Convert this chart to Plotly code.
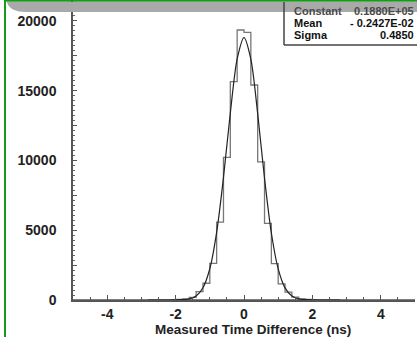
import numpy as np
import plotly.graph_objects as go

# ---------------- data ----------------
bin_width = 0.2
bin_centers = [-2.9, -2.7, -2.5, -2.3, -2.1, -1.9, -1.7, -1.5, -1.3, -1.1,
               -0.9, -0.7, -0.5, -0.3, -0.1, 0.1, 0.3, 0.5, 0.7, 0.9,
               1.1, 1.3, 1.5, 1.7, 1.9, 2.1, 2.3, 2.5, 2.7, 2.9]
bin_counts = [0, 10, 12, 18, 30, 45, 80, 190, 595, 1200,
              2630, 5580, 10220, 15640, 19340, 19170, 15400, 9900, 5490, 2600,
              1150, 560, 200, 85, 45, 30, 18, 12, 8, 0]

fit_x = [-2.8, -2.4, -2.0, -1.8, -1.6, -1.4, -1.2, -1.0, -0.8, -0.6, -0.4, -0.2, 0.0,
         0.2, 0.4, 0.6, 0.8, 1.0, 1.2, 1.4, 1.6, 1.8, 2.0, 2.4, 2.8]
fit_y = [0, 1, 4, 20, 82, 290, 880, 2240, 4850, 8780, 13400, 17270, 18800,
         17250, 13350, 8720, 4800, 2230, 870, 285, 80, 20, 4, 1, 0]

x_tick_vals = [-4, -2, 0, 2, 4]
x_tick_text = ["-4", "-2", "0", "2", "4"]
y_tick_vals = [0, 2500, 5000, 7500, 10000, 12500, 15000, 17500, 20000]
y_tick_text = ["0", "", "5000", "", "10000", "", "15000", "", "20000"]

stat_names = ["Constant", "Mean", "Sigma"]
stat_values = ["0.1880E+05", "- 0.2427E-02", "0.4850"]

x_title = "Measured Time Difference (ns)"

# ---------------- geometry helpers ----------------
W, H = 417, 337
ML, MR, MT, MB = 73, 2, 0, 37
PW = W - ML - MR
PH = H - MT - MB


def xp(px):
    return (px - ML) / PW


def yp(py):
    return (MT + PH - py) / PH


# step outline from bin centers
edges = np.array(bin_centers) - bin_width / 2
step_x = list(edges) + [bin_centers[-1] + bin_width / 2]
step_y = list(bin_counts) + [bin_counts[-1]]

fig = go.Figure()
fig.add_trace(go.Scatter(x=[-5, 5], y=[0, 0], mode="lines",
                         line=dict(color="#555555", width=1.5),
                         hoverinfo="skip", showlegend=False))
fig.add_trace(go.Scatter(x=step_x, y=step_y, mode="lines", line_shape="hv",
                         line=dict(color="#777777", width=1.3),
                         showlegend=False))
fig.add_trace(go.Scatter(x=fit_x, y=fit_y, mode="lines", line_shape="spline",
                         line=dict(color="#222222", width=1.2, smoothing=0.8),
                         showlegend=False))

font_fam = "Liberation Sans, Arial, sans-serif"

fig.update_xaxes(range=[-5, 5], showgrid=False, zeroline=False,
                 showline=True, linecolor="#555555", linewidth=1.5,
                 tickmode="array", tickvals=x_tick_vals, ticktext=x_tick_text,
                 ticks="inside", ticklen=5, tickwidth=1, tickcolor="#555555",
                 ticklabelstandoff=0,
                 tickfont=dict(family=font_fam, size=14, color="#222222", weight="bold"),
                 minor=dict(ticks="inside", dtick=0.5, tick0=0, ticklen=3,
                            tickcolor="#555555", tickwidth=1),
                 automargin=False)
fig.update_yaxes(range=[0, 21490], showgrid=False, zeroline=False,
                 showline=True, linecolor="#555555", linewidth=1.5,
                 tickmode="array", tickvals=y_tick_vals, ticktext=y_tick_text,
                 ticks="inside", ticklen=4, tickwidth=1, tickcolor="#555555",
                 ticklabelstandoff=12,
                 tickfont=dict(family=font_fam, size=14, color="#222222", weight="bold"),
                 minor=dict(ticks="inside", dtick=2500 / 7, tick0=0, ticklen=2,
                            tickcolor="#666666", tickwidth=1),
                 automargin=False)

shapes = []
# green frame (left + top)
shapes.append(dict(type="line", xref="paper", yref="paper",
                   x0=xp(5), x1=xp(5), y0=yp(0), y1=yp(H),
                   line=dict(color="#1a9a1a", width=2), layer="above"))
shapes.append(dict(type="line", xref="paper", yref="paper",
                   x0=xp(4), x1=xp(W + 2), y0=yp(0.8), y1=yp(0.8),
                   line=dict(color="#1a9a1a", width=2), layer="above"))
# grey title band with rounded lower-left corner
path = (f"M {xp(7)},{yp(2)} L {xp(W + 2)},{yp(2)} L {xp(W + 2)},{yp(12)} "
        f"L {xp(27)},{yp(12)} Q {xp(9)},{yp(12)} {xp(7)},{yp(2)} Z")
shapes.append(dict(type="path", xref="paper", yref="paper", path=path,
                   fillcolor="#a9a9a9", line=dict(width=0), layer="above"))
# stats box
shapes.append(dict(type="rect", xref="paper", yref="paper",
                   x0=xp(284), x1=xp(W + 5), y0=yp(45), y1=yp(12),
                   fillcolor="white", line=dict(width=0), layer="above"))
shapes.append(dict(type="line", xref="paper", yref="paper",
                   x0=xp(284), x1=xp(284), y0=yp(2), y1=yp(45),
                   line=dict(color="#444444", width=1.5), layer="above"))
shapes.append(dict(type="line", xref="paper", yref="paper",
                   x0=xp(284), x1=xp(W + 2), y0=yp(45), y1=yp(45),
                   line=dict(color="#444444", width=1.5), layer="above"))

annotations = []
row_y = [10.5, 23.0, 34.5]
for i, (nm, val) in enumerate(zip(stat_names, stat_values)):
    col = "#4a4a4a" if i == 0 else "#111111"
    annotations.append(dict(xref="paper", yref="paper", x=xp(292), y=yp(row_y[i]),
                            text=nm, showarrow=False, xanchor="left", yanchor="middle",
                            font=dict(family=font_fam, size=11, color=col, weight="bold")))
    annotations.append(dict(xref="paper", yref="paper", x=xp(416), y=yp(row_y[i]),
                            text=val, showarrow=False, xanchor="right", yanchor="middle",
                            font=dict(family=font_fam, size=11, color=col, weight="bold")))
annotations.append(dict(xref="paper", yref="paper", x=xp(253), y=yp(329.8),
                        text=x_title, showarrow=False, xanchor="center", yanchor="middle",
                        font=dict(family=font_fam, size=13.5, color="#222222", weight="bold")))

fig.update_layout(width=W, height=H, margin=dict(l=ML, r=MR, t=MT, b=MB, pad=0),
                  paper_bgcolor="white", plot_bgcolor="white",
                  shapes=shapes, annotations=annotations, showlegend=False)

fig.write_html("out.html")
